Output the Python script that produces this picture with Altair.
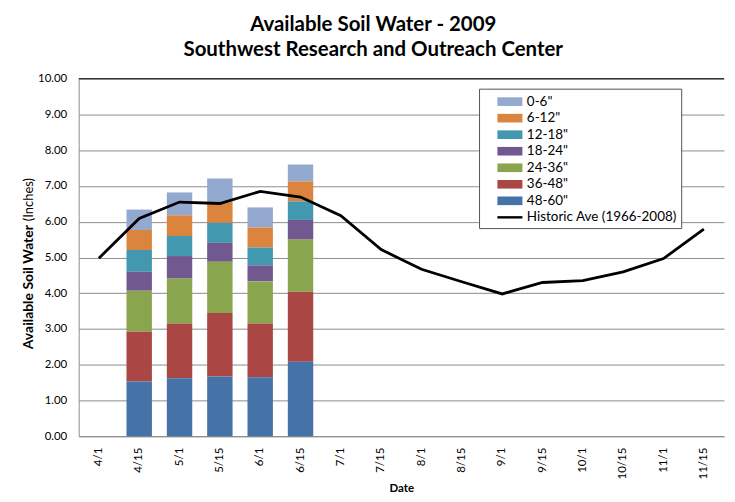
import altair as alt
import pandas as pd

dates = ["4/1", "4/15", "5/1", "5/15", "6/1", "6/15", "7/1", "7/15", "8/1",
         "8/15", "9/1", "9/15", "10/1", "10/15", "11/1", "11/15"]
bar_dates = ["4/15", "5/1", "5/15", "6/1", "6/15"]
depths = ['0-6"', '6-12"', '12-18"', '18-24"', '24-36"', '36-48"', '48-60"']
colors = ["#93A9CF", "#DB843D", "#4198AF", "#71588F", "#89A54E", "#AA4643", "#4572A7"]

d_0_6 = [0.57, 0.64, 0.66, 0.56, 0.47]
d_6_12 = [0.56, 0.58, 0.58, 0.56, 0.56]
d_12_18 = [0.61, 0.56, 0.56, 0.50, 0.52]
d_18_24 = [0.53, 0.63, 0.53, 0.45, 0.55]
d_24_36 = [1.15, 1.26, 1.43, 1.18, 1.46]
d_36_48 = [1.39, 1.53, 1.78, 1.50, 1.96]
d_48_60 = [1.53, 1.62, 1.67, 1.65, 2.08]

historic_label = "Historic Ave (1966-2008)"
historic = [4.98, 6.09, 6.55, 6.51, 6.85, 6.69, 6.17, 5.22, 4.67, 4.32,
            3.98, 4.30, 4.35, 4.60, 4.97, 5.79]

y_ticks = [0, 1, 2, 3, 4, 5, 6, 7, 8, 9, 10]

FONT = "Lato"

series_vals = [d_0_6, d_6_12, d_12_18, d_18_24, d_24_36, d_36_48, d_48_60]
rows = []
for i, (dep, vals) in enumerate(zip(depths, series_vals)):
    for d, v in zip(bar_dates, vals):
        rows.append({"date": d, "depth": dep, "idx": i, "value": v})
bars_df = pd.DataFrame(rows)
line_df = pd.DataFrame({"date": dates, "value": historic})
legend_df = pd.DataFrame({"series": depths + [historic_label]})

x_axis = alt.Axis(title="Date", labelAngle=-90, labelPadding=11, ticks=False,
                  titleFontWeight="bold", titleFontSize=11.5, titlePadding=4,
                  domainColor="#8c8c8c")
x_scale = alt.Scale(domain=dates, paddingInner=0.37, paddingOuter=0.185)
y_scale = alt.Scale(domain=[0, 10], nice=False)
y_axis = alt.Axis(title=None, values=y_ticks, format=".2f", ticks=False,
                  gridColor="#8c8c8c", domainColor="#8c8c8c", labelPadding=12)

bars = alt.Chart(bars_df).mark_bar().encode(
    x=alt.X("date:N", sort=dates, scale=x_scale, axis=x_axis),
    y=alt.Y("value:Q", stack="zero", scale=y_scale, axis=y_axis),
    color=alt.Color("depth:N", scale=alt.Scale(domain=depths, range=colors), legend=None),
    order=alt.Order("idx:Q", sort="descending"),
)

line = alt.Chart(line_df).mark_line(color="black", strokeWidth=2.8).encode(
    x=alt.X("date:N", sort=dates, scale=x_scale, axis=x_axis),
    y=alt.Y("value:Q", scale=y_scale, axis=y_axis),
)

top_rule = alt.Chart(pd.DataFrame({"v": [10]})).mark_rule(color="black", strokeWidth=1).encode(
    y=alt.Y("v:Q", scale=y_scale, axis=y_axis)
)

rect_path = "M-1.45,-0.5H1.45V0.5H-1.45Z"
line_path = "M-1.45,-0.14H1.45V0.14H-1.45Z"
leg = alt.Legend(
    title=None, orient="none", legendX=402, legendY=10,
    labelFont=FONT, labelFontSize=13.5, labelColor="#000", labelLimit=400,
    symbolSize=300, symbolOpacity=1, symbolStrokeWidth=0, rowPadding=0.6,
    labelOffset=8, padding=4, symbolOffset=18, strokeColor="#555", fillColor="white",
)
legend_layer = alt.Chart(legend_df).mark_point(filled=True, size=300, opacity=0).encode(
    color=alt.Color("series:N", scale=alt.Scale(domain=depths + [historic_label],
                                                 range=colors + ["#000000"]), legend=leg),
    shape=alt.Shape("series:N", scale=alt.Scale(domain=depths + [historic_label],
                                                 range=[rect_path] * 7 + [line_path]), legend=leg),
)

ytitle_df = pd.DataFrame({"a": ["Available Soil Water"], "b": ["(Inches)"]})
ytitle_bold = alt.Chart(ytitle_df).mark_text(
    angle=270, align="right", baseline="middle", font=FONT, fontSize=14,
    fontWeight="bold", color="#000"
).encode(text="a:N", x=alt.value(-50), y=alt.value(147))
ytitle_reg = alt.Chart(ytitle_df).mark_text(
    angle=270, align="left", baseline="middle", font=FONT, fontSize=13,
    fontWeight="normal", color="#000"
).encode(text="b:N", x=alt.value(-50), y=alt.value(143))

chart = alt.layer(bars, line, top_rule, legend_layer, ytitle_bold, ytitle_reg).resolve_scale(
    color="independent", shape="independent"
).properties(
    width=648,
    height=359,
    padding={"left": 14, "top": 6, "right": 2, "bottom": 2},
    title=alt.Title(
        ["Available Soil Water - 2009", "Southwest Research and Outreach Center"],
        font=FONT, fontSize=20.5, fontWeight="bold", color="#000",
        anchor="middle", frame="bounds", lineHeight=25, offset=12,
    ),
).configure_view(stroke=None).configure_axis(
    labelFont=FONT, labelFontSize=11.5, labelColor="#000", titleFont=FONT, titleColor="#000",
    gridWidth=1,
).configure_axisX(grid=False)

chart.save("out.html", embed_options={"renderer": "svg", "actions": False})
